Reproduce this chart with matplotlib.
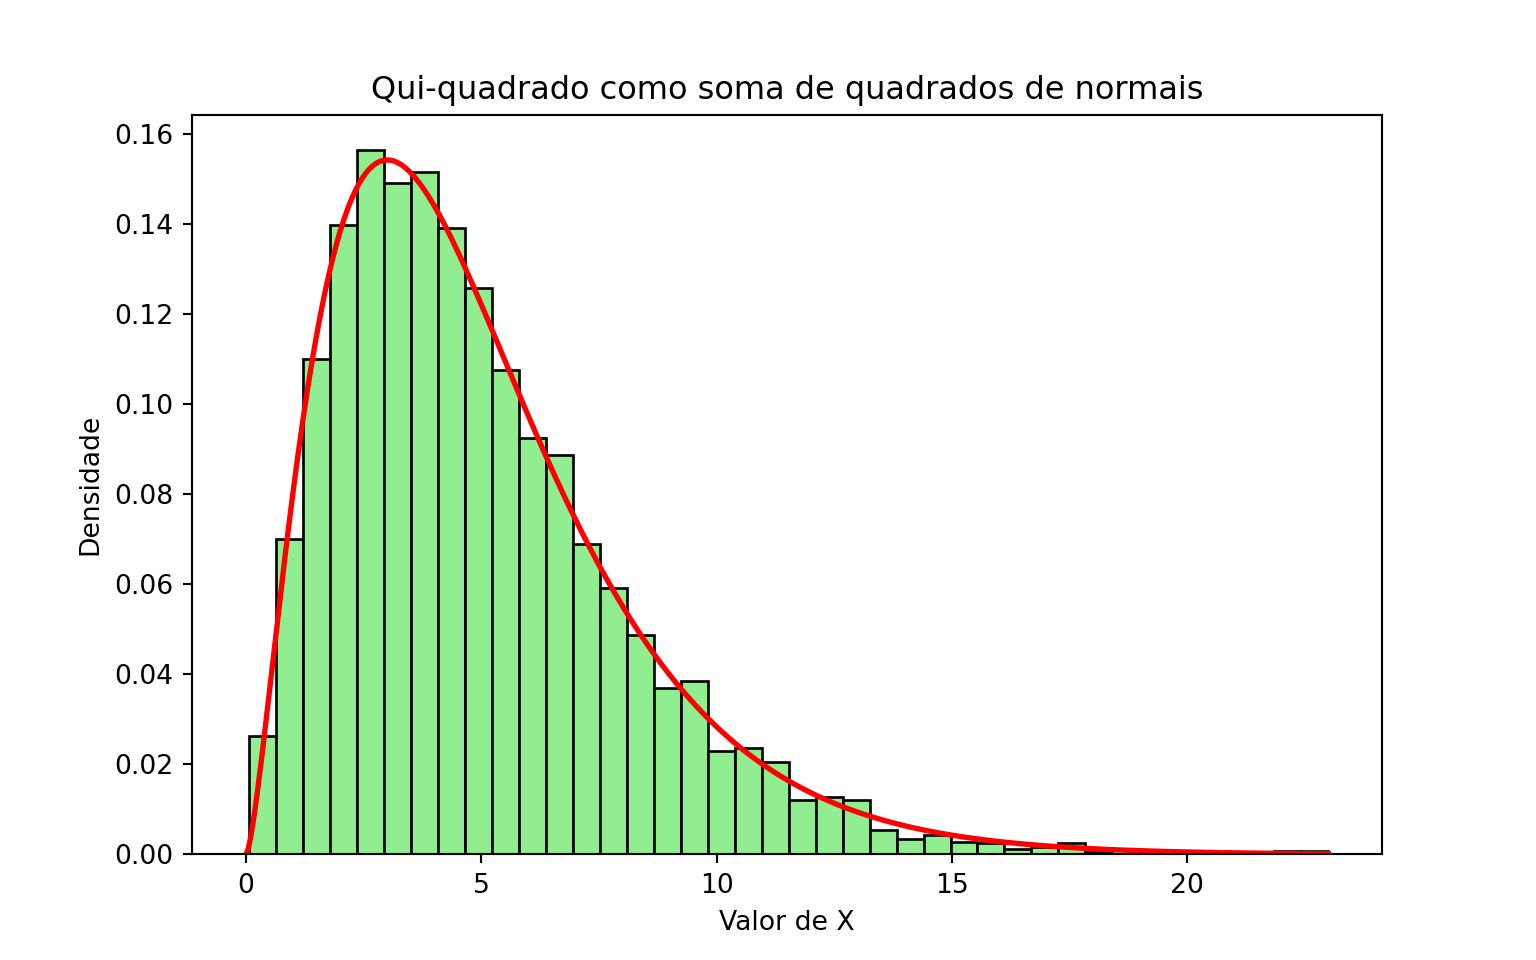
import math
import numpy as np
import matplotlib
matplotlib.use("Agg")
import matplotlib.pyplot as plt

# Histogram data (density per bin), 40 bins
bin_start = 0.06
bin_end = 23.0
n_bins = 40
densities = [
    0.0263, 0.0701, 0.1100, 0.1398, 0.1563, 0.1490, 0.1514, 0.1390, 0.1258, 0.1076,
    0.0925, 0.0887, 0.0690, 0.0592, 0.0488, 0.0369, 0.0385, 0.0230, 0.0237, 0.0205,
    0.0120, 0.0128, 0.0120, 0.0054, 0.0035, 0.0043, 0.0028, 0.0026, 0.0013, 0.0017,
    0.0026, 0.0006, 0.0013, 0.0003, 0.0000, 0.0003, 0.0000, 0.0000, 0.0007, 0.0007,
]
df = 5  # degrees of freedom of the theoretical curve
curve_max = 23.0

edges = np.linspace(bin_start, bin_end, n_bins + 1)
centers = (edges[:-1] + edges[1:]) / 2

fig, ax = plt.subplots(figsize=(8, 5), dpi=192)
ax.hist(centers, bins=edges, weights=densities, color="lightgreen",
        edgecolor="black", linewidth=1.0)

x = np.linspace(0, curve_max, 500)
k = df / 2
pdf = x ** (k - 1) * np.exp(-x / 2) / (2 ** k * math.gamma(k))
ax.plot(x, pdf, color="red", linewidth=2)

ax.set_title("Qui-quadrado como soma de quadrados de normais")
ax.set_xlabel("Valor de X")
ax.set_ylabel("Densidade")

fig.savefig("out.png", dpi=192)
